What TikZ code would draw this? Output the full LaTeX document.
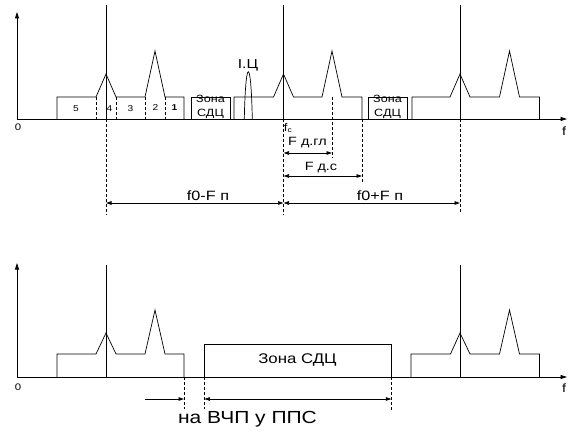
\documentclass[tikz,border=0pt]{standalone}
\usepackage{fontspec}
\setmainfont{Liberation Sans}[FakeStretch=1.2]
\usetikzlibrary{arrows.meta}
\begin{document}
\begin{tikzpicture}[x=1pt,y=-1pt, line width=0.7pt,
  dsh/.style={dash pattern=on 3pt off 2pt},
  ax/.style={-{Triangle[length=6.5pt,width=4pt]}},
  dimarr/.style={{Triangle[length=5.5pt,width=3.5pt]}-{Triangle[length=5.5pt,width=3.5pt]}},
  onearr/.style={-{Triangle[length=5.5pt,width=3.5pt]}},
  lbl/.style={inner sep=0pt, font=\fontsize{12}{12}\selectfont},
  big/.style={inner sep=0pt, font=\fontsize{13.5}{13.5}\selectfont},
  tiny/.style={inner sep=0pt, font=\fontsize{8.5}{8.5}\selectfont},
  zona/.style={inner sep=0pt, align=center, font=\fontsize{10.5}{13.5}\selectfont}]
\useasboundingbox (0,0) rectangle (570,441);
% ---------- top chart ----------
\coordinate (o1) at (17,119);
\draw[ax] (o1) -- (17,12);
\draw[ax] (o1) -- (567,119);
\node[tiny, font=\fontsize{9.5}{9.5}\selectfont] (zero1) at (18,127) {0};
\node[lbl] (f1) at (564,131) {f};
% carriers
\coordinate (c1t) at (106,5);   \coordinate (c1b) at (106,119);
\coordinate (c2t) at (283.5,5); \coordinate (c2b) at (283.5,119);
\coordinate (c3t) at (460,5);   \coordinate (c3b) at (460,119);
\draw (c1t) -- (c1b); \draw (c2t) -- (c2b); \draw (c3t) -- (c3b);
% spectrum 1
\draw (57,119) -- (57,97) -- (96,97) -- (106,74) -- (116,97) -- (145,97) -- (155,51) -- (165,97) -- (184,97) -- (184,119);
\foreach \x in {96,116,145,165} \draw[dsh] (\x,97) -- (\x,119);
\node[tiny] (n5) at (76,109) {5};
\node[tiny] (n4) at (109.5,109) {4};
\node[tiny] (n3) at (130.5,109) {3};
\node[tiny] (n2) at (155.5,108) {2};
\node[tiny] (n1) at (174.5,108) {\bfseries 1};
% zone box 1
\draw (191,97) rectangle (230,119);
\node[zona] (z1) at (210.5,107) {Зона\\СДЦ};
% spectrum 2
\draw (234,119) -- (234,97) -- (273.5,97) -- (283.5,74) -- (293.5,97) -- (322,97) -- (332,51) -- (342,97) -- (362,97) -- (362,119);
\draw (244.3,119) .. controls (245.6,56) and (251,56) .. (252.3,119);
\node[lbl, font=\fontsize{13}{13}\selectfont] (ic) at (248,65.5) {I.Ц};
% zone box 2
\draw (368,97) rectangle (407,119);
\node[zona] (z2) at (387.5,107) {Зона\\СДЦ};
% spectrum 3
\draw (412,119) -- (412,97) -- (450,97) -- (460,74) -- (470,97) -- (499.5,97) -- (509.5,51) -- (519.5,97) -- (539.5,97) -- (539.5,119);
% fc label
\node[lbl, anchor=west, font=\fontsize{11}{11}\selectfont] (fc) at (283.5,128) {f\raisebox{-1.5pt}{\fontsize{7}{7}\selectfont c}};
% dashed extensions
\coordinate (d1) at (106,215);
\coordinate (d2) at (283.5,215);
\coordinate (d3) at (460,212);
\coordinate (g1) at (332,97); \coordinate (g2) at (332,158);
\coordinate (s1) at (362,119); \coordinate (s2) at (362,182);
\draw[dsh] (c1b) -- (d1);
\draw[dsh] (c2b) -- (d2);
\draw[dsh] (c3b) -- (d3);
\draw[dsh] (g1) -- (g2);
\draw[dsh] (s1) -- (s2);
% dimension arrows
\coordinate (a1l) at (283.5,153); \coordinate (a1r) at (332,153);
\coordinate (a2l) at (283.5,176); \coordinate (a2r) at (362,176);
\coordinate (a3l) at (106,203);   \coordinate (a3m) at (283.5,203); \coordinate (a3r) at (460,203);
\draw[dimarr] (a1l) -- (a1r);
\draw[dimarr] (a2l) -- (a2r);
\draw[dimarr] (a3l) -- (a3m);
\draw[dimarr] (a3m) -- (a3r);
\node[lbl] (fdgl) at (307.5,143) {F д.гл};
\node[lbl] (fds) at (321,167.5) {F д.с};
\node[big] (fmin) at (208,195.5) {f0-F п};
\node[big] (fplus) at (380,195.5) {f0+F п};
% ---------- bottom chart ----------
\coordinate (o2) at (17,377);
\draw[ax] (o2) -- (17,263);
\draw[ax] (o2) -- (567,377);
\node[tiny, font=\fontsize{9.5}{9.5}\selectfont] (zero2) at (18,387) {0};
\node[lbl] (f2) at (564,388) {f};
\coordinate (b1t) at (106,265); \coordinate (b1b) at (106,377);
\coordinate (b3t) at (460,265); \coordinate (b3b) at (460,377);
\draw (b1t) -- (b1b); \draw (b3t) -- (b3b);
\draw (57,377) -- (57,354) -- (96,354) -- (106,333) -- (116,354) -- (145,354) -- (155,310) -- (165,354) -- (184,354) -- (184,377);
\draw (204.3,377) -- (204.3,344) -- (391.3,344) -- (391.3,377);
\node[big, font=\fontsize{14}{14}\selectfont] (zb) at (297.5,360) {Зона СДЦ};
\draw (411,377) -- (411,354) -- (450.5,354) -- (460,333) -- (470,354) -- (499.5,354) -- (509.5,310) -- (519.5,354) -- (539.5,354) -- (539.5,377);
\coordinate (e1t) at (184,377);   \coordinate (e1b) at (184,409);
\coordinate (e2t) at (204.3,377); \coordinate (e2b) at (204.3,409);
\coordinate (e3t) at (391.3,377); \coordinate (e3b) at (391.3,411);
\draw[dsh] (e1t) -- (e1b);
\draw[dsh] (e2t) -- (e2b);
\draw[dsh] (e3t) -- (e3b);
\coordinate (p0) at (145,399); \coordinate (p1) at (184,399);
\coordinate (p2) at (204.3,399); \coordinate (p3) at (391.3,399);
\draw[onearr] (p0) -- (p1);
\draw[dimarr] (p2) -- (p3);
\node[inner sep=0pt, font=\fontsize{17.5}{17.5}\selectfont] (vchp) at (247.5,419) {на ВЧП у ППС};
\end{tikzpicture}
\end{document}
